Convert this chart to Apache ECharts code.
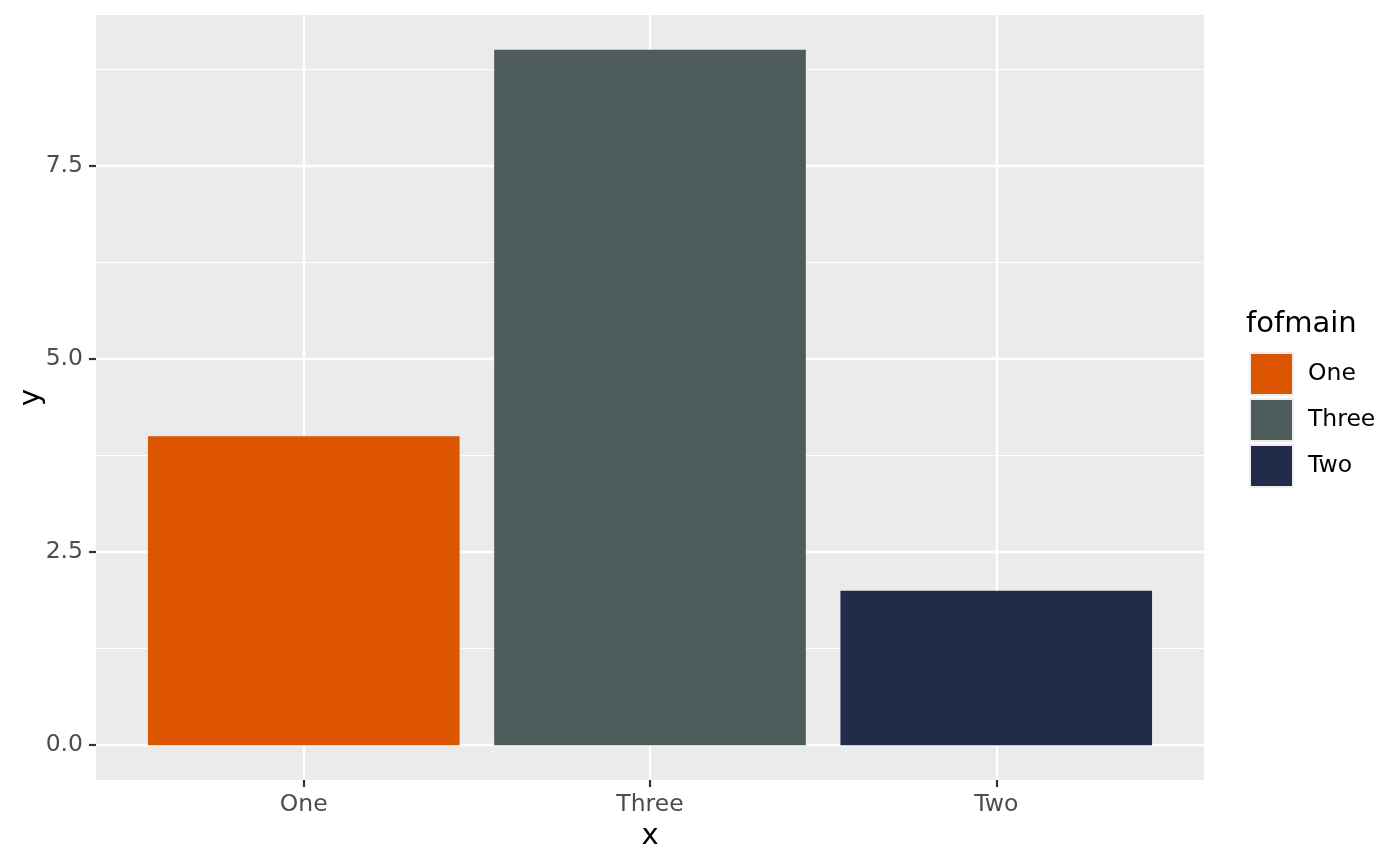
<!DOCTYPE html>
<html>
<head>
<meta charset="utf-8">
<script src="https://cdn.jsdelivr.net/npm/echarts@6/dist/echarts.min.js"></script>
<style>
html,body{margin:0;padding:0;background:#fff;}
#chart{width:1400px;height:866px;}
</style>
</head>
<body>
<div id="chart"></div>
<script>
const categories = ['One', 'Three', 'Two'];
const values = [4, 9, 2];
const xPositions = [1, 2, 3];
const barColors = ['#DD5500', '#4D5B5A', '#232B4A'];
const yTicks = [0, 2.5, 5, 7.5];
const yMinor = [1.25, 3.75, 6.25, 8.75];
const yRange = [-0.45, 9.45];
const xRange = [0.4, 3.6];
const legendTitle = 'fofmain';

const FONT = 'DejaVu Sans';
const chart = echarts.init(document.getElementById('chart'));

const barSeries = categories.map((c, i) => ({
  name: c,
  type: 'bar',
  data: [[xPositions[i], values[i]]],
  barWidth: '90%',
  barGap: '-100%',
  itemStyle: { color: barColors[i] },
  z: 3,
  animation: false
}));

const gridSeries = {
  name: '__grid',
  type: 'line',
  data: [],
  silent: true,
  markLine: {
    z: 1,
    silent: true,
    symbol: 'none',
    animation: false,
    label: { show: false },
    lineStyle: { color: '#FFFFFF', width: 1.2, type: 'solid' },
    emphasis: { disabled: true },
    data: yMinor.map(v => ({ yAxis: v }))
  }
};

chart.setOption({
  animation: false,
  title: {
    text: legendTitle,
    left: 1246,
    top: 310,
    padding: 0,
    textStyle: { fontFamily: FONT, fontSize: 29, fontWeight: 'normal', color: '#000' }
  },
  legend: {
    data: categories,
    orient: 'vertical',
    left: 1249,
    top: 352,
    padding: 0,
    itemWidth: 43,
    itemHeight: 42,
    itemGap: 2,
    icon: 'rect',
    itemStyle: { borderColor: '#EEEEEE', borderWidth: 2 },
    textStyle: { fontFamily: FONT, fontSize: 23.5, color: '#000', padding: [0, 0, 0, 10] },
    selectedMode: false
  },
  grid: {
    left: 96, right: 196, top: 15, bottom: 86,
    outerBoundsMode: 'none',
    containLabel: false,
    show: true,
    backgroundColor: '#EBEBEB',
    borderWidth: 0
  },
  xAxis: {
    type: 'value',
    min: xRange[0],
    max: xRange[1],
    name: 'x',
    nameLocation: 'middle',
    nameGap: 42,
    nameTextStyle: { fontFamily: FONT, fontSize: 29, color: '#000' },
    axisLine: { show: false, onZero: false },
    axisTick: { show: true, customValues: xPositions, length: 7, lineStyle: { color: '#333333', width: 2.2 } },
    axisLabel: {
      customValues: xPositions,
      fontFamily: FONT, fontSize: 23.5, color: '#4D4D4D', margin: 13,
      formatter: v => categories[xPositions.indexOf(v)]
    },
    splitLine: { show: true, lineStyle: { color: '#FFFFFF', width: 2.3 } }
  },
  yAxis: {
    type: 'value',
    min: yRange[0],
    max: yRange[1],
    name: 'y',
    nameLocation: 'middle',
    nameGap: 50,
    nameMoveOverlap: false,
    nameTextStyle: { fontFamily: FONT, fontSize: 29, color: '#000' },
    axisLine: { show: false, onZero: false },
    axisTick: { show: true, customValues: yTicks, length: 7, lineStyle: { color: '#333333', width: 2.2 } },
    axisLabel: {
      customValues: yTicks,
      fontFamily: FONT, fontSize: 23.5, color: '#4D4D4D', margin: 13,
      formatter: v => v.toFixed(1)
    },
    splitLine: { show: true, lineStyle: { color: '#FFFFFF', width: 2.3 } }
  },
  series: [gridSeries].concat(barSeries)
});
</script>
</body>
</html>
